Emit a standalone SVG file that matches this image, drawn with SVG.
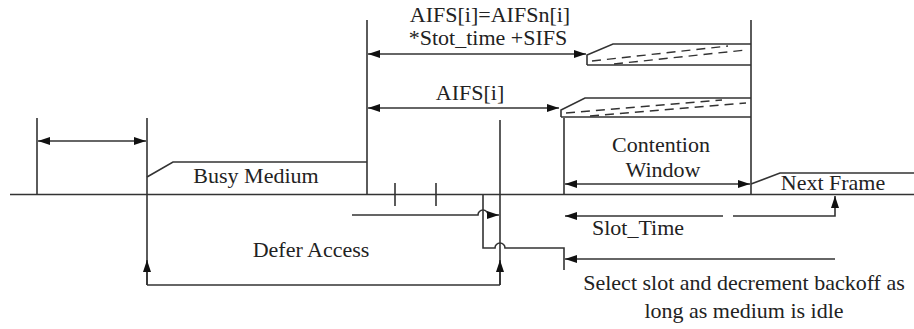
<svg xmlns="http://www.w3.org/2000/svg" width="914" height="329" viewBox="0 0 914 329">
<defs>
<marker id="ah" viewBox="0 0 12 8" refX="12" refY="4" markerWidth="12" markerHeight="8" markerUnits="userSpaceOnUse" orient="auto-start-reverse">
<path d="M0,0 L12,4 L0,8 Z" fill="#111"/>
</marker>
<style>
.ln{stroke:#333;stroke-width:1.6;fill:none}
.ar{stroke:#333;stroke-width:1.6;fill:none;marker-end:url(#ah)}
.ar2{stroke:#333;stroke-width:1.6;fill:none;marker-start:url(#ah);marker-end:url(#ah)}
.hat{stroke:#333;stroke-width:1.4;fill:none;stroke-dasharray:9 6}
.t{font-size:22px;fill:#222;text-anchor:middle}
</style>
</defs>
<rect width="914" height="329" fill="#fff"/>
<g id="connectors">
<line class="ln" x1="10" y1="194.5" x2="914" y2="194.5"/>
<line class="ln" x1="37" y1="118" x2="37" y2="195"/>
<line class="ln" x1="147" y1="118" x2="147" y2="285"/>
<line class="ar2" x1="38" y1="141" x2="146" y2="141"/>
<line class="ln" x1="367" y1="20" x2="367" y2="195"/>
<line class="ln" x1="751" y1="20" x2="751" y2="195"/>
<line class="ar2" x1="368" y1="54" x2="586" y2="54"/>
<line class="ar2" x1="368" y1="108" x2="559" y2="108"/>
<line class="ln" x1="564" y1="118" x2="564" y2="195"/>
<line class="ar2" x1="565" y1="184" x2="750" y2="184"/>
<line class="ln" x1="500" y1="120" x2="500" y2="285"/>
<line class="ln" x1="395" y1="183" x2="395" y2="206"/>
<line class="ln" x1="436" y1="183" x2="436" y2="206"/>
<path class="ar" d="M352,215 L478,215 A5,5 0 0 1 488,215 L499,215"/>
<path class="ln" d="M483,195 L483,248 L495,248 A5,5 0 0 1 505,248 L564,248 L564,270"/>
<path class="ln" d="M147,285 L500,285"/>
<line class="ar" x1="147" y1="285" x2="147" y2="260"/>
<line class="ar" x1="500" y1="285" x2="500" y2="260"/>
<line class="ar" x1="723" y1="216" x2="565" y2="216"/>
<path class="ar" d="M733,216 L835,216 L835,196"/>
<line class="ar" x1="835" y1="259" x2="565" y2="259"/>
</g>
<g font-family="'Liberation Serif', 'Times New Roman', 'DejaVu Serif', serif">
<g id="busy-medium">
<path class="ln" d="M147,177 L173,162 L367,162"/>
<text class="t" x="256" y="183">Busy Medium</text>
</g>
<g id="aifsn-slot">
<path class="ln" d="M587,65 L587,55 L613,44 L751,44 M587,65 L751,65"/>
<line class="hat" x1="592" y1="61" x2="728" y2="46"/>
<line class="hat" x1="614" y1="64" x2="746" y2="50"/>
</g>
<g id="aifs-slot">
<path class="ln" d="M561,117 L561,110 L585,98 L751,98 M561,117 L751,117"/>
<line class="hat" x1="566" y1="113" x2="722" y2="100"/>
<line class="hat" x1="590" y1="116" x2="746" y2="103"/>
</g>
<g id="next-frame">
<path class="ln" d="M751,184 L780,173 L914,173"/>
<text class="t" x="833" y="190">Next Frame</text>
</g>
<g id="labels">
<text class="t" x="490" y="22">AIFS[i]=AIFSn[i]</text>
<text class="t" x="488" y="45">*Stot_time +SIFS</text>
<text class="t" x="470" y="100">AIFS[i]</text>
<text class="t" x="661" y="152">Contention</text>
<text class="t" x="663" y="177">Window</text>
<text class="t" x="638" y="235">Slot_Time</text>
<text class="t" x="311" y="257">Defer Access</text>
<text class="t" x="744" y="290">Select slot and decrement backoff as</text>
<text class="t" x="744" y="318">long as medium is idle</text>
</g>
</g>
</svg>
